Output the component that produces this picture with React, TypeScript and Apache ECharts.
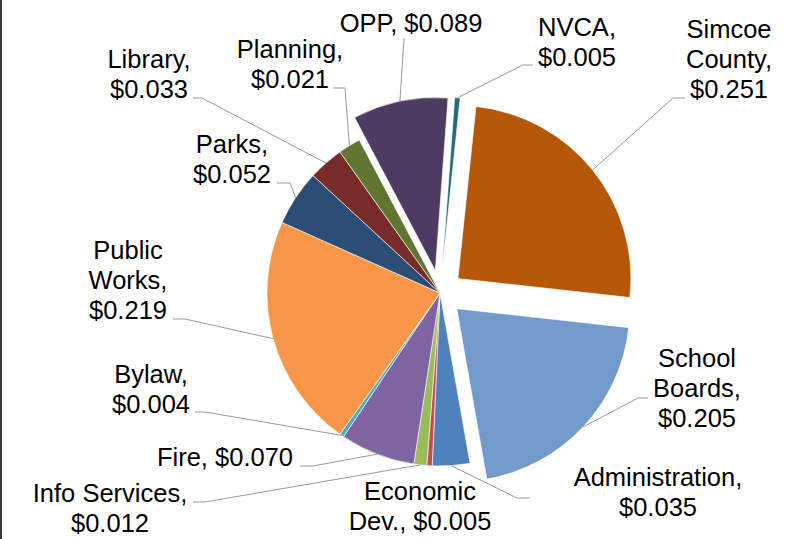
import React, { useEffect, useRef } from "react";
import * as echarts from "echarts";

// ---- data ----
const categories = [
  "Administration",
  "Economic Dev.",
  "Info Services",
  "Fire",
  "Bylaw",
  "Public Works",
  "Parks",
  "Library",
  "Planning",
  "OPP",
  "NVCA",
  "Simcoe County",
  "School Boards",
];
const values = [0.035, 0.005, 0.012, 0.07, 0.004, 0.219, 0.052, 0.033, 0.021, 0.089, 0.005, 0.251, 0.205];
const exploded = [false, false, false, false, false, false, false, false, false, true, true, true, true];
// label wrapping: break name at its space / put value on its own line
const breakName = [false, true, false, false, false, true, false, false, false, false, false, true, true];
const valueOnNewLine = [true, false, true, false, true, true, true, true, true, false, true, true, true];

// ---- styles / layout ----
const colors = [
  "#4F81BD", "#C0504D", "#9BBB59", "#8064A2", "#4BACC6", "#F79646",
  "#2C4D75", "#772C2A", "#5F7530", "#4D3B62", "#276A7C", "#B65708", "#729ACA",
];
const CX = 440;
const CY = 293;
const R = 173;
const OFFSET = 23;
const FIRST_SLICE_ANGLE = 170; // clockwise from 12 o'clock
const FONT_SIZE = 25.5;
const LINE_H = 29.7;
// label anchor: [center x, baseline of first line]
const labelPos = [
  [658, 486], [420, 500], [110, 502], [225, 466], [151, 383], [128, 259],
  [232, 153], [149, 68], [290, 58], [411, 32], [577, 36], [729, 38], [697, 367],
];
// leader line bend/end points near each label (null: no leader)
const leaderEnds: (number[][] | null)[] = [
  [[517, 498], [530, 498]],
  null,
  [[205, 502], [193, 502]],
  [[313, 466], [300, 466]],
  [[205, 412], [195, 412]],
  [[185, 319], [173, 319]],
  [[290, 183], [277, 183]],
  [[202, 98], [193, 98]],
  [[345, 88], [333, 88]],
  [[404, 38]],
  [[523, 65], [533, 65]],
  [[673, 98], [685, 98]],
  [[638, 398], [648, 398]],
];

function labelText(i: number) {
  const name = breakName[i] ? categories[i].replace(" ", "\n") : categories[i];
  const val = "$" + values[i].toFixed(3);
  return name + "," + (valueOnNewLine[i] ? "\n" : " ") + val;
}

export default function App() {
  const ref = useRef<HTMLDivElement>(null);
  useEffect(() => {
    if (!ref.current) return;
    const chart = echarts.init(ref.current, undefined, { renderer: "svg" });
    const total = values.reduce((a, b) => a + b, 0);
    let cum = 0;
    const graphics: any[] = [
      { type: "rect", shape: { x: 0, y: 0, width: 2, height: 539 }, style: { fill: "#3a3a3a" }, z: 10 },
    ];
    values.forEach((v, i) => {
      const mid = ((FIRST_SLICE_ANGLE + ((cum + v / 2) / total) * 360) * Math.PI) / 180;
      cum += v;
      const r = R + (exploded[i] ? OFFSET : 0);
      const sx = CX + r * Math.sin(mid);
      const sy = CY - r * Math.cos(mid);
      const ends = leaderEnds[i];
      if (ends) {
        graphics.push({
          type: "polyline",
          shape: { points: [[sx, sy], ...ends] },
          style: { stroke: "#9a9a9a", lineWidth: 1, fill: null },
          z: 5,
        });
      }
      const [lx, lb] = labelPos[i];
      graphics.push({
        type: "text",
        x: lx,
        y: lb - LINE_H / 2 - 0.3465 * FONT_SIZE,
        style: {
          text: labelText(i),
          fill: "#000",
          fontSize: FONT_SIZE,
          fontFamily: '"Liberation Sans", Arial, sans-serif',
          align: "center",
          verticalAlign: "top",
          lineHeight: LINE_H,
        },
        z: 6,
      });
    });

    chart.setOption({
      animation: false,
      backgroundColor: "#ffffff",
      graphic: graphics,
      series: [
        {
          type: "pie",
          center: [CX, CY],
          radius: R,
          startAngle: 90 - FIRST_SLICE_ANGLE,
          clockwise: true,
          selectedMode: "multiple",
          selectedOffset: OFFSET,
          avoidLabelOverlap: false,
          label: { show: false },
          labelLine: { show: false },
          emphasis: { disabled: true },
          itemStyle: { borderColor: "#ffffff", borderWidth: 0.6 },
          select: { itemStyle: { borderColor: "#ffffff", borderWidth: 0.6 } },
          data: categories.map((c, i) => ({
            name: c,
            value: values[i],
            selected: exploded[i],
            itemStyle: { color: colors[i] },
            select: { itemStyle: { color: colors[i] } },
          })),
        },
      ],
    });
    return () => chart.dispose();
  }, []);
  return (
    <div
      ref={ref}
      style={{ position: "fixed", left: 0, top: 0, width: 795, height: 539, background: "#fff" }}
    />
  );
}
